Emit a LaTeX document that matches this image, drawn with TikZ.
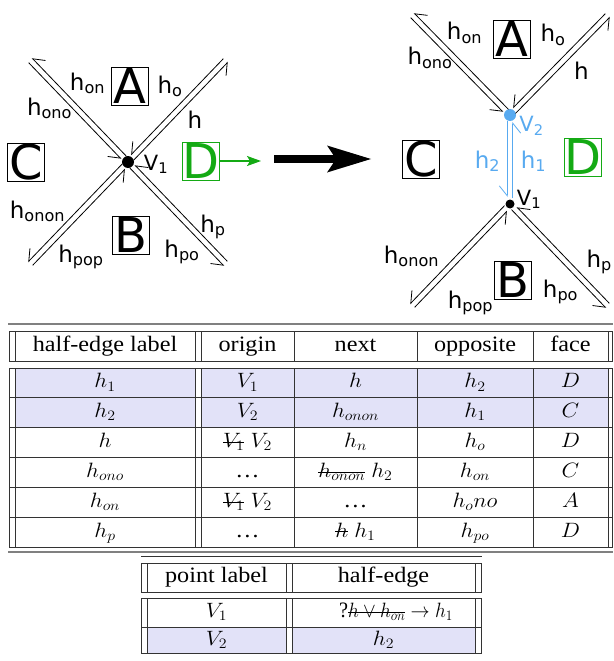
\documentclass[tikz,border=0pt]{standalone}
\usepackage{fontspec}
\setmainfont{Liberation Serif}
\newfontfamily\diagfont{DejaVu Sans}
\usepackage{graphicx}
\usepackage{xcolor}
\usepackage{tikz}
\usetikzlibrary{arrows.meta}

\definecolor{vblue}{RGB}{88,170,240}
\definecolor{dgreen}{RGB}{20,170,20}
\definecolor{rowlav}{RGB}{226,226,248}

% etiquetas das meias-arestas e celulas da tabela
\newcommand{\hsub}[1]{h\textsubscript{#1}}
\newcommand{\cellt}[1]{\scalebox{1.1}[1]{#1}}
\newcommand{\xout}[1]{\setbox0=\hbox{#1}\rlap{\rule[0.5ex]{\wd0}{0.6pt}}\box0\relax}

\begin{document}
\begin{tikzpicture}[x=1pt, y=-1pt,
			facebox/.style={draw, line width=0.8pt, inner sep=0pt, minimum width=37pt, minimum height=38pt, font=\diagfont\fontsize{48}{50}\selectfont},
			lbl/.style={anchor=base, inner sep=0pt, font=\diagfont\fontsize{23}{26}\selectfont},
			vlbl/.style={anchor=base, inner sep=0pt, font=\diagfont\fontsize{21}{24}\selectfont},
			vdot/.style={circle, fill=black, inner sep=0pt, minimum size=12pt},
			hout/.style={line width=0.8pt, shorten <=5pt, -{Straight Barb[harpoon, swap, length=10pt, width=16pt]}},
			hin/.style={line width=0.8pt, shorten >=7pt, shorten <=1pt, -{Straight Barb[harpoon, swap, length=10pt, width=16pt]}},
			hblue/.style={vblue, line width=0.8pt, shorten <=6pt, shorten >=7pt, -{Straight Barb[harpoon, swap, length=10pt, width=16pt]}},
			bigarrow/.style={line width=8pt, -{Stealth[length=44pt, width=27pt, inset=9pt, line width=0pt]}},
			garrow/.style={dgreen, line width=1.3pt, -{Stealth[length=14pt, width=10pt, inset=3pt]}},
			cell/.style={inner sep=0pt, text height=14.5pt, text depth=4.5pt, font=\fontsize{22}{26}\selectfont},
			tline/.style={line width=0.9pt, black!80},
			gline/.style={line width=1.3pt, black!50}
			]
			
			\useasboundingbox (0,0) rectangle (613,661);
			\clip (0,0) rectangle (613,661);
			\fill[white] (0,0) rectangle (613,661);
			
			% Antes: um vertice V1 com quatro bracos
			\node[vdot] (v1L) at (128,162) {};
			\coordinate (nwL) at (30,60);
			\coordinate (neL) at (226,60);
			\coordinate (swL) at (30,264);
			\coordinate (seL) at (226,264);
			
			% Depois: V2 em cima, V1 em baixo
			\node[vdot, fill=vblue] (v2R) at (510,115) {};
			\node[vdot, minimum size=9pt] (v1R) at (510,204) {};
			\coordinate (nwR) at (412,15);
			\coordinate (neR) at (608,15);
			\coordinate (swR) at (412,306);
			\coordinate (seR) at (608,306);
			
			% Meias-arestas (saida / entrada em cada braco)
			\foreach \v/\e/\ox/\oy/\ix/\iy in {v1L/nwL/2/-2/-2/2, v1L/neL/2/2/-2/-2, v1L/seL/-2/2/2/-2, v1L/swL/-2/-2/2/2,
				v2R/nwR/2/-2/-2/2, v2R/neR/2/2/-2/-2, v1R/seR/-2/2/2/-2, v1R/swR/-2/-2/2/2}{
				\draw[hout] ([shift={(\ox,\oy)}]\v.center) -- ([shift={(\ox,\oy)}]\e);
				\draw[hin] ([shift={(\ix,\iy)}]\e) -- ([shift={(\ix,\iy)}]\v.center);
			}
			\draw[hblue] ([xshift=-2.7pt]v2R.center) -- ([xshift=-2.7pt]v1R.center);
			\draw[hblue] ([xshift=2.7pt]v1R.center) -- ([xshift=2.7pt]v2R.center);
			
			% Faces
			\node[facebox] (aL) at (130,86) {A};
			\node[facebox] (cL) at (26,162.5) {C};
			\node[facebox, draw=dgreen, text=dgreen] (dL) at (201,161) {D};
			\node[facebox] (bL) at (131,235) {B};
			\node[facebox] (aR) at (511.5,39) {A};
			\node[facebox] (cR) at (421,159) {C};
			\node[facebox, draw=dgreen, text=dgreen] (dR) at (582.5,157.5) {D};
			\node[facebox] (bR) at (512.5,280) {B};
			
			% Rotulos - antes
			\node[lbl] (honL) at (87.5,90) {\hsub{on}};
			\node[lbl] (hoL) at (170,93) {\hsub{o}};
			\node[lbl] (hL) at (195,128) {h};
			\node[lbl] (honoL) at (49.5,115) {\hsub{ono}};
			\node[vlbl] (v1Ltxt) at (156,170) {V\textsubscript{1}};
			\node[lbl] (hononL) at (37.5,218) {\hsub{onon}};
			\node[lbl] (hpL) at (213,232) {\hsub{p}};
			\node[lbl] (hpoL) at (182,257) {\hsub{po}};
			\node[lbl] (hpopL) at (81,262) {\hsub{pop}};
			
			% Rotulos - depois
			\node[lbl] (honR) at (464.5,40) {\hsub{on}};
			\node[lbl] (hoR) at (553,42) {\hsub{o}};
			\node[lbl] (hR) at (581.5,80) {h};
			\node[lbl] (honoR) at (430,65) {\hsub{ono}};
			\node[vlbl, text=vblue] (v2Rtxt) at (531.5,131.5) {V\textsubscript{2}};
			\node[lbl, text=vblue] (h2R) at (487.5,168) {\hsub{2}};
			\node[lbl, text=vblue] (h1R) at (533.5,168) {\hsub{1}};
			\node[vlbl] (v1Rtxt) at (529,205) {V\textsubscript{1}};
			\node[lbl] (hononR) at (411.5,263) {\hsub{onon}};
			\node[lbl] (hpopR) at (470.5,308) {\hsub{pop}};
			\node[lbl] (hpoR) at (560.5,297) {\hsub{po}};
			\node[lbl, anchor=base east] (hpR) at (612,267) {\hsub{p}};
			
			% Setas
			\coordinate (dnext) at (261,161);
			\draw[garrow] (dL.east) -- (dnext);
			\coordinate (bigtail) at (274,159);
			\coordinate (bighead) at (371,159);
			\draw[bigarrow] (bigtail) -- (bighead);
			
			% Tabela das meias-arestas
			\fill[rowlav] (15,368) rectangle (195,427.7);
			\fill[rowlav] (201,368) rectangle (608,427.7);
			\draw[gline] (8,324) -- (613,324);
			\foreach \y in {331,361,368,397.8,427.7,457.5,487.3,517.2,547}
				\draw[tline] (9,\y) -- (613,\y);
			\draw[gline] (8,552) -- (613,552);
			\foreach \x in {9,15,195,201,294,417,533,608,612.5}{
				\draw[tline] (\x,331) -- (\x,361);
				\draw[tline] (\x,368) -- (\x,547);
			}
			\node[cell] (t1-h1) at (105,346) {\cellt{half-edge label}};
			\node[cell] (t1-h2) at (247.5,346) {\cellt{origin}};
			\node[cell] (t1-h3) at (355.5,346) {\cellt{next}};
			\node[cell] (t1-h4) at (475,346) {\cellt{opposite}};
			\node[cell] (t1-h5) at (570.5,346) {\cellt{face}};
			\foreach \i/\ca/\cb/\cc/\cd/\ce in {
				1/$h_1$/$V_1$/$h$/$h_2$/$D$,
				2/$h_2$/$V_2$/$h_{onon}$/$h_1$/$C$,
				3/$h$/\xout{$V_1$} $V_2$/$h_n$/$h_o$/$D$,
				4/$h_{ono}$/\ldots/\xout{$h_{onon}$} $h_2$/$h_{on}$/$C$,
				5/$h_{on}$/\xout{$V_1$} $V_2$/\ldots/$h_ono$/$A$,
				6/$h_p$/\ldots/\xout{$h$} $h_1$/$h_{po}$/$D$}{
				\pgfmathsetmacro{\ry}{368+29.83*(\i-0.5)}
				\node[cell] (t1-\i-1) at (105,\ry) {\cellt{\ca}};
				\node[cell] (t1-\i-2) at (247.5,\ry) {\cellt{\cb}};
				\node[cell] (t1-\i-3) at (355.5,\ry) {\cellt{\cc}};
				\node[cell] (t1-\i-4) at (475,\ry) {\cellt{\cd}};
				\node[cell] (t1-\i-5) at (570.5,\ry) {\cellt{\ce}};
			}
			
			% Tabela dos pontos
			\fill[rowlav] (147,627.5) rectangle (286,653);
			\fill[rowlav] (292,627.5) rectangle (475,653);
			\foreach \y in {556,563,592,598,627.5,653}
				\draw[tline] (141,\y) -- (481.5,\y);
			\foreach \x in {141,147,286,292,475,481.5}{
				\draw[tline] (\x,563) -- (\x,592);
				\draw[tline] (\x,598) -- (\x,653);
			}
			\node[cell] (t2-h1) at (216.5,577.5) {\cellt{point label}};
			\node[cell] (t2-h2) at (383.5,577.5) {\cellt{half-edge}};
			\node[cell] (t2-1-1) at (216.5,612.75) {\cellt{$V_1$}};
			\node[cell] (t2-1-2) at (396,612.75) {\scalebox{0.92}[1]{?\xout{$h\vee h_{on}$}$\;\rightarrow h_1$}};
			\node[cell] (t2-2-1) at (216.5,640.25) {\cellt{$V_2$}};
			\node[cell] (t2-2-2) at (383.5,640.25) {\cellt{$h_2$}};
			
		\end{tikzpicture}
\end{document}
